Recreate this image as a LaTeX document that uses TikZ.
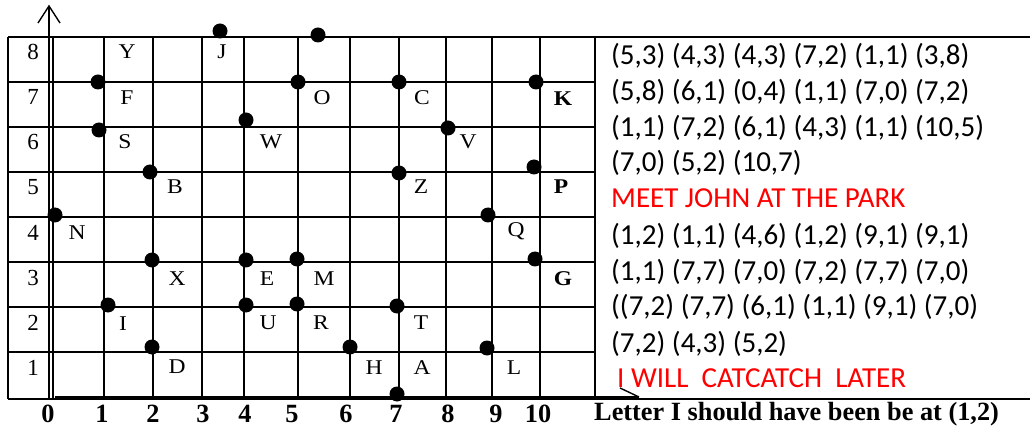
\documentclass[tikz,border=0pt]{standalone}
\usepackage{fontspec}
\setmainfont{Liberation Serif}
\newfontfamily\msgfont{Carlito}
\newfontfamily\lblfont[FakeStretch=1.12]{Liberation Serif}
\begin{document}
\begin{tikzpicture}[x=1pt,y=-1pt,
  gridline/.style={line width=1.6pt},
  axisline/.style={line width=1.4pt},
  dot/.style={circle,fill=black,inner sep=0pt,minimum size=15pt},
  lbl/.style={inner sep=0pt,font=\lblfont\fontsize{21}{22}\selectfont},
  blbl/.style={lbl,font=\lblfont\fontsize{21}{22}\selectfont\bfseries},
  ynum/.style={inner sep=0pt,font=\fontsize{23}{24}\selectfont},
  xnum/.style={inner sep=0pt,font=\fontsize{26.3}{27}\selectfont\bfseries},
  msg/.style={inner sep=0pt,anchor=base west,font=\msgfont\fontsize{29}{31}\selectfont},
  redmsg/.style={msg,text=red}]
\useasboundingbox (0,0) rectangle (1030,430);
% grid
\foreach \yy in {82,127,172,217,262,307,352} \draw[gridline] (8,\yy) -- (595,\yy);
\draw[gridline] (8,37) -- (1030,37);
\draw[gridline] (8,399) -- (1030,399);
\foreach \xx in {8,53,104,153,202,244,298,350,399,446,492,540,595} \draw[gridline] (\xx,37) -- (\xx,399);
% axes
\coordinate (yb) at (49,399);
\coordinate (yt) at (49,6);
\draw[axisline] (yb) -- (yt);
\draw[axisline] (38,23) -- (yt) -- (60,23);
\coordinate (xb) at (55,397);
\coordinate (xt) at (639,397);
\draw[axisline] (xb) -- (xt);
\draw[axisline] (620,388) -- (xt);
% y numbers
\foreach \n/\yy in {8/52,7/97,6/142,5/187,4/233,3/278,2/323,1/368}
  \node[ynum] (y\n) at (33,\yy) {\n};
% x numbers
\foreach \n/\xx in {0/48,1/102,2/153,3/203,4/245,5/292,6/346,7/396,8/448,9/496,10/538}
  \node[xnum] (x\n) at (\xx,414) {\n};
\node[xnum,anchor=west] (note) at (594,414) {Letter I should have been be at (1,2)};
% dots
\node[dot] (dJ) at (220,31) {};
\node[dot] (d58) at (318,35) {};
\node[dot] (dF) at (98,82) {};
\node[dot] (dO) at (298,82) {};
\node[dot] (dC) at (399,82) {};
\node[dot] (dK) at (536,82) {};
\node[dot] (dS) at (99,130) {};
\node[dot] (dW) at (246,120) {};
\node[dot] (dV) at (448,128) {};
\node[dot] (dB) at (150,172) {};
\node[dot] (dZ) at (399,173) {};
\node[dot] (dP) at (534,167) {};
\node[dot] (dN) at (55,215) {};
\node[dot] (dQ) at (488,215) {};
\node[dot] (dX) at (152,260) {};
\node[dot] (dE) at (246,260) {};
\node[dot] (dM) at (297,259) {};
\node[dot] (dG) at (535,259) {};
\node[dot] (dI) at (108,305) {};
\node[dot] (dU) at (246,305) {};
\node[dot] (dR) at (297,304) {};
\node[dot] (dT) at (397,306) {};
\node[dot] (dD) at (152,347) {};
\node[dot] (dH) at (350,347) {};
\node[dot] (dL) at (487,348) {};
\node[dot] (d70) at (397,394) {};
% letters
\node[lbl] (lY) at (127,52) {Y};
\node[lbl] (lJ) at (222,52) {J};
\node[lbl] (lF) at (127,98) {F};
\node[lbl] (lO) at (322,98) {O};
\node[lbl] (lC) at (422,98) {C};
\node[blbl] (lK) at (563,99) {K};
\node[lbl] (lS) at (125,142) {S};
\node[lbl] (lW) at (271,142) {W};
\node[lbl] (lV) at (468,142) {V};
\node[lbl] (lB) at (175,187) {B};
\node[lbl] (lZ) at (421,187) {Z};
\node[blbl] (lP) at (561,187) {P};
\node[lbl] (lN) at (77,233) {N};
\node[lbl] (lQ) at (516,231) {Q};
\node[lbl] (lX) at (177,279) {X};
\node[lbl] (lE) at (267,279) {E};
\node[lbl] (lM) at (324,279) {M};
\node[blbl] (lG) at (563,279) {G};
\node[lbl] (lI) at (123,324) {I};
\node[lbl] (lU) at (268,323) {U};
\node[lbl] (lR) at (321,323) {R};
\node[lbl] (lT) at (421,323) {T};
\node[lbl] (lD) at (177,367) {D};
\node[lbl] (lH) at (374,368) {H};
\node[lbl] (lA) at (422,368) {A};
\node[lbl] (lL) at (514,368) {L};
% message text
\node[msg] (m1) at (611,65) {(5,3) (4,3) (4,3) (7,2) (1,1) (3,8)};
\node[msg] (m2) at (611,101) {(5,8) (6,1) (0,4) (1,1) (7,0) (7,2)};
\node[msg] (m3) at (611,137) {(1,1) (7,2) (6,1) (4,3) (1,1) (10,5)};
\node[msg] (m4) at (611,172) {(7,0) (5,2) (10,7)};
\node[redmsg] (m5) at (611,208) {MEET JOHN AT THE PARK};
\node[msg] (m6) at (611,245) {(1,2) (1,1) (4,6) (1,2) (9,1) (9,1)};
\node[msg] (m7) at (611,280) {(1,1) (7,7) (7,0) (7,2) (7,7) (7,0)};
\node[msg] (m8) at (611,315) {((7,2) (7,7) (6,1) (1,1) (9,1) (7,0)};
\node[msg] (m9) at (611,352) {(7,2) (4,3) (5,2)};
\node[redmsg] (m10) at (617,387) {I WILL\ \ CATCATCH\ \ LATER};
\end{tikzpicture}
\end{document}
